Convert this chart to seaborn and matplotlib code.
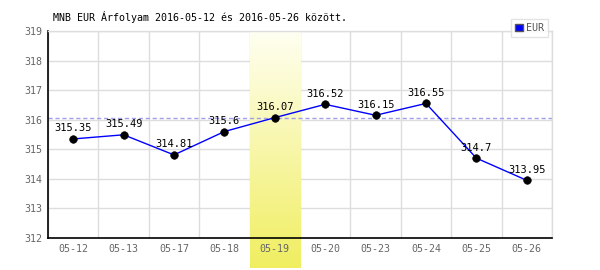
import numpy as np
import pandas as pd
import matplotlib
matplotlib.use("Agg")
import matplotlib.pyplot as plt
import seaborn as sns
from matplotlib.colors import LinearSegmentedColormap
from matplotlib.patches import Patch

dates = ["05-12", "05-13", "05-17", "05-18", "05-19", "05-20", "05-23", "05-24", "05-25", "05-26"]
rates = [315.35, 315.49, 314.81, 315.6, 316.07, 316.52, 316.15, 316.55, 314.7, 313.95]
highlight_date = "05-19"
reference_rate = 316.07
title = "MNB EUR Árfolyam 2016-05-12 és 2016-05-26 között."
series_name = "EUR"
y_ticks = [312, 313, 314, 315, 316, 317, 318, 319]

sns.set_theme(style="white")
plt.rcParams["font.family"] = ["DejaVu Sans Mono", "DejaVu Sans"]

df = pd.DataFrame({"pos": np.arange(len(dates)), "date": dates, "rate": rates})

fig = plt.figure(figsize=(6, 2.7), dpi=100)
ax = fig.add_axes([48 / 600, 1 - 238 / 270, 504 / 600, 207 / 270])

ymin, ymax = y_ticks[0], y_ticks[-1]
ax.set_xlim(-0.5, len(dates) - 0.5)
ax.set_ylim(ymin, ymax)

# highlight band with vertical gradient (pale at top, yellow at bottom)
hi = dates.index(highlight_date)
cmap = LinearSegmentedColormap.from_list("hl", ["#fffff2", "#f0ee60"])
grad = np.linspace(1, 0, 256).reshape(-1, 1)
band_bottom = ymin - 30 / 207 * (ymax - ymin)
ax.imshow(grad, cmap=cmap, vmin=0, vmax=1, aspect="auto",
          extent=[hi - 0.5, hi + 0.5, band_bottom, ymax],
          origin="lower", zorder=0.5, clip_on=False)

# grid
ax.set_yticks(y_ticks)
ax.set_xticks(df["pos"])
ax.set_xticklabels(dates)
ax.grid(False)
for yv in y_ticks:
    ax.axhline(yv, color="#dddddd", lw=1, zorder=0.4)
for xv in np.arange(len(dates) + 1) - 0.5:
    ax.axvline(xv, color="#dddddd", lw=1, zorder=0.4)

ax.axhline(reference_rate, color="#a0a0e8", lw=1, ls=(0, (3, 2)), zorder=1)

sns.lineplot(data=df, x="pos", y="rate", ax=ax, color="#0000ff", lw=1, zorder=2, legend=False)
sns.scatterplot(data=df, x="pos", y="rate", ax=ax, color="black", s=30, zorder=3,
                edgecolor="black", legend=False)

for p, v in zip(df["pos"], df["rate"]):
    ax.annotate(f"{v:g}", (p, v), xytext=(0, 4), textcoords="offset points",
                ha="center", va="bottom", fontsize=7.5, color="black", zorder=4)

ax.set_xlabel("")
ax.set_ylabel("")
ax.tick_params(axis="both", length=0, labelsize=7.2, labelcolor="#666666", pad=4)

for s in ["left", "bottom"]:
    ax.spines[s].set_color("black")
    ax.spines[s].set_linewidth(1.2)
for s in ["top", "right"]:
    ax.spines[s].set_color("#dddddd")
    ax.spines[s].set_linewidth(1)

fig.text(53 / 600, 1 - 17 / 270, title, ha="left", va="center", fontsize=7.2, color="black")

handle = Patch(facecolor="#0000ff", edgecolor="#555555", label=series_name)
leg = fig.legend(handles=[handle], loc="upper right", bbox_to_anchor=(553 / 600, 1 - 14 / 270),
                 fontsize=7.2, frameon=True, fancybox=False, handlelength=0.8, handleheight=0.8,
                 handletextpad=0.3, borderpad=0.4, labelcolor="#555555")
leg.get_frame().set_edgecolor("#dddddd")
leg.get_frame().set_linewidth(1)

fig.savefig("out.png", dpi=100)
